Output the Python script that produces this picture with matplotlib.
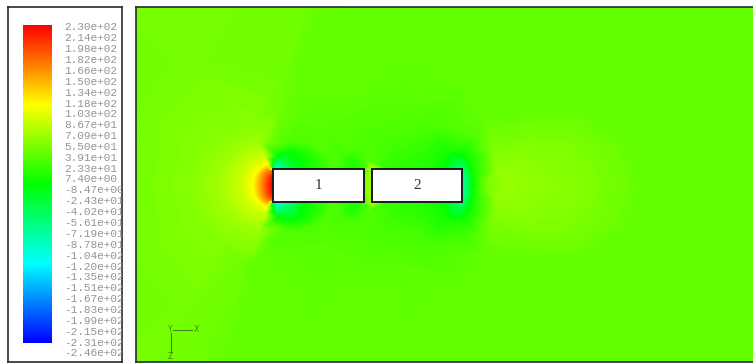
import numpy as np
import matplotlib
matplotlib.use('Agg')
import matplotlib.pyplot as plt
import matplotlib.tri as mtri
from matplotlib.colors import LinearSegmentedColormap, Normalize
from matplotlib.cm import ScalarMappable
from matplotlib.patches import Rectangle

# colour scale range (Pa) and the values printed next to the bar
p_min, p_max = -246.0, 230.0
scale_values = [230, 214, 198, 182, 166, 150, 134, 118, 103, 86.7, 70.9, 55.0, 39.1,
                23.3, 7.40, -8.47, -24.3, -40.2, -56.1, -71.9, -87.8, -104, -120,
                -135, -151, -167, -183, -199, -215, -231, -246]

# domain (m)
x_lo, x_hi = -1.375, 4.80
y_lo, y_hi = -1.76, 1.78

# blocks: left edge, bottom edge, length, height (m)
block_x = [0.0, 0.99]
block_y = [-0.165, -0.165]
block_len = [0.91, 0.90]
block_h = [0.33, 0.33]
block_names = ['1', '2']

# pressure probes, columns are x (m), y (m), p (Pa)
far_field = np.array([
    [-1.375, 1.78, 47], [-1.375, 0.9, 46], [-1.375, 0.0, 47], [-1.375, -0.9, 46],
    [-1.375, -1.76, 47], [-0.6, 1.78, 47], [0.25, 1.78, 46], [0.45, 1.78, 39],
    [1.2, 1.78, 38.5], [2.2, 1.78, 38.5], [3.3, 1.78, 38.5], [4.8, 1.78, 38.5],
    [-0.8, -1.76, 46], [-0.45, -1.76, 39], [0.4, -1.76, 38.5], [1.4, -1.76, 38.5],
    [2.4, -1.76, 38.5], [3.5, -1.76, 38.5], [4.8, -1.76, 38.5],
    [4.8, 0.9, 38.5], [4.8, 0.0, 38.5], [4.8, -0.9, 38.5],
    [1.0, 1.1, 38], [2.0, 1.1, 38.5], [3.0, 1.2, 38.5], [4.0, 0.6, 38.5],
    [4.0, -0.6, 38.5], [1.0, -1.1, 38], [2.0, -1.1, 38.5], [3.0, -1.2, 38.5],
    [-0.9, 1.3, 47], [-0.9, -1.3, 47],
    [0.05, 1.1, 46], [0.25, 1.1, 38], [-0.35, -0.75, 46], [-0.15, -0.75, 37],
    [0.05, 0.75, 45], [0.25, 0.75, 36],
])

# nested rings ahead of block 1 (stagnation zone)
stagnation = np.array([
    [-0.198, 0.640, 52], [-0.538, 0.532, 52], [-0.786, 0.325, 52], [-0.900, 0.0, 52],
    [-0.786, -0.325, 52], [-0.538, -0.532, 52], [-0.198, -0.640, 52],
    [-0.146, 0.443, 64], [-0.366, 0.369, 64], [-0.526, 0.225, 64], [-0.600, 0.0, 64],
    [-0.526, -0.225, 64], [-0.366, -0.369, 64], [-0.146, -0.443, 64],
    [-0.082, 0.286, 85], [-0.202, 0.238, 85], [-0.290, 0.145, 85], [-0.330, 0.0, 85],
    [-0.290, -0.145, 85], [-0.202, -0.238, 85], [-0.082, -0.286, 85],
    [-0.060, 0.207, 110], [-0.128, 0.172, 110], [-0.177, 0.105, 110], [-0.200, 0.0, 110],
    [-0.177, -0.105, 110], [-0.128, -0.172, 110], [-0.060, -0.207, 110],
    [-0.044, 0.148, 165], [-0.076, 0.123, 165], [-0.099, 0.075, 165], [-0.110, 0.0, 165],
    [-0.099, -0.075, 165], [-0.076, -0.123, 165], [-0.044, -0.148, 165],
    [-0.005, 0.14, 185], [-0.005, 0.07, 225], [-0.005, 0.0, 230],
    [-0.005, -0.07, 225], [-0.005, -0.14, 185],
])

# suction around the leading corners and rear of block 1
block1_field = np.array([
    # leading top corner
    [0.02, 0.185, -100], [0.08, 0.195, -75], [0.15, 0.19, -50], [0.22, 0.185, -25],
    [0.03, 0.24, -60], [0.10, 0.25, -40],
    [0.04, 0.31, -5], [0.15, 0.34, -5], [0.28, 0.32, -2], [0.38, 0.26, 3], [0.44, 0.19, 8],
    [0.08, 0.42, 30], [0.22, 0.45, 28], [0.42, 0.40, 28], [0.56, 0.28, 28], [0.60, 0.18, 26],
    # leading bottom corner
    [0.02, -0.185, -110], [0.09, -0.195, -85], [0.17, -0.195, -60], [0.25, -0.185, -30],
    [0.03, -0.245, -70], [0.11, -0.255, -45],
    [0.04, -0.32, -8], [0.16, -0.35, -8], [0.29, -0.33, -4], [0.39, -0.27, 2], [0.45, -0.20, 8],
    [0.08, -0.43, 30], [0.22, -0.46, 28], [0.42, -0.41, 28], [0.56, -0.29, 28], [0.60, -0.19, 26],
    # trailing corners
    [0.68, 0.18, 22], [0.77, 0.24, 5], [0.85, 0.20, 8], [0.70, 0.30, 22], [0.85, 0.33, 22],
    [0.77, 0.36, 28], [0.68, -0.18, 22], [0.77, -0.25, 5], [0.85, -0.20, 8],
    [0.70, -0.31, 22], [0.85, -0.34, 22], [0.77, -0.37, 28],
    # along the top and bottom faces
    [0.03, 0.172, -100], [0.10, 0.172, -75], [0.20, 0.172, -35], [0.30, 0.172, -8],
    [0.45, 0.172, 10], [0.80, 0.172, 5], [0.90, 0.172, 15],
    [0.03, -0.172, -110], [0.10, -0.172, -85], [0.20, -0.172, -45], [0.30, -0.172, -10],
    [0.45, -0.172, 10], [0.80, -0.172, 5], [0.90, -0.172, 15],
])

# gap between the blocks and the field round block 2
block2_field = np.array([
    [0.95, 0.17, 45], [0.95, 0.08, 60], [0.95, 0.0, 55], [0.95, -0.08, 60],
    [0.95, -0.17, 45], [0.95, 0.25, 28], [0.95, -0.25, 28],
    [0.985, 0.12, 70], [0.985, 0.0, 60], [0.985, -0.12, 70],
    [1.0, 0.172, 75], [1.0, -0.172, 70],
    [1.1, 0.18, 20], [1.3, 0.18, 12], [1.5, 0.18, 8], [1.65, 0.18, 0],
    [1.75, 0.172, -20], [1.85, 0.172, -45],
    [1.1, -0.18, 20], [1.3, -0.18, 12], [1.5, -0.18, 8], [1.65, -0.18, 0],
    [1.75, -0.172, -20], [1.85, -0.172, -45],
    [1.2, 0.32, 20], [1.5, 0.35, 15], [1.2, -0.32, 20], [1.5, -0.35, 15],
    [1.80, 0.25, -30], [1.88, 0.20, -50], [1.72, 0.30, 0], [1.90, 0.33, 0],
    [1.80, 0.40, 12], [1.98, 0.25, 0], [2.02, 0.35, 20],
    [1.79, -0.265, -30], [1.88, -0.21, -50], [1.72, -0.31, 0], [1.90, -0.34, 0],
    [1.80, -0.41, 12], [1.98, -0.26, 0], [2.02, -0.36, 20],
    [1.905, 0.15, -60], [1.905, 0.07, -85], [1.905, 0.0, -90], [1.905, -0.07, -85],
    [1.905, -0.15, -60], [1.95, 0.0, -40],
    [2.02, 0.10, 5], [2.02, -0.10, 5],
    [1.0, 0.55, 28], [1.6, 0.60, 26], [2.05, 0.50, 30], [0.5, 0.60, 33],
    [1.0, -0.55, 28], [1.6, -0.60, 26], [2.05, -0.50, 30], [0.5, -0.60, 33],
    [1.3, 0.85, 34], [1.3, -0.85, 34],
])

# recovery region behind block 2
wake = np.array([
    [2.35, 0.0, 62], [2.25, 0.15, 60], [2.25, -0.15, 60], [2.5, 0.2, 58],
    [2.5, -0.2, 58], [2.7, 0.0, 57], [2.12, 0.0, 45],
    [2.2, 0.35, 50], [2.2, -0.35, 50], [2.6, 0.5, 48], [2.6, -0.5, 48],
    [3.0, 0.55, 47], [3.0, -0.55, 47], [3.35, 0.3, 46], [3.35, -0.3, 46],
    [3.45, 0.0, 46],
    [2.1, 0.7, 38], [2.6, 0.75, 38], [3.1, 0.75, 38], [3.55, 0.45, 38], [3.7, 0.0, 38],
    [2.1, -0.7, 38], [2.6, -0.75, 38], [3.1, -0.75, 38], [3.55, -0.45, 38],
])

probes = np.vstack([far_field, stagnation, block1_field, block2_field, wake])

fluent_cmap = LinearSegmentedColormap.from_list(
    'fluent', ['#0000ff', '#00ffff', '#00ff00', '#ffff00', '#ff0000'])
norm = Normalize(p_min, p_max)

fig = plt.figure(figsize=(7.53, 3.63), dpi=100)
fig.patch.set_facecolor('white')

# main contour panel
ax = fig.add_axes([0.17995, 0.00413, 0.82005, 0.97521])
tri = mtri.Triangulation(probes[:, 0], probes[:, 1])
ax.tricontourf(tri, probes[:, 2], levels=np.linspace(p_min, p_max, 240),
               cmap=fluent_cmap, norm=norm, extend='both')

for bx, by, bl, bh, name in zip(block_x, block_y, block_len, block_h, block_names):
    ax.add_patch(Rectangle((bx, by), bl, bh, facecolor='white', edgecolor='#1a1a1a',
                           lw=1.4, zorder=3))
    ax.text(bx + bl / 2, by + bh / 2, name, ha='center', va='center', fontsize=11,
            family='Liberation Serif', color='#333333', zorder=4)

ax.set_xlim(x_lo, x_hi)
ax.set_ylim(y_lo, y_hi)
ax.set_xticks([])
ax.set_yticks([])
for side in ['left', 'top', 'bottom']:
    ax.spines[side].set_color('#2a2a2a')
    ax.spines[side].set_linewidth(1.2)
ax.spines['right'].set_visible(False)

# view triad
triad_col = '#3d8a14'
ax.plot([0.0605, 0.0923], [0.089, 0.089], color=triad_col, lw=0.8, transform=ax.transAxes)
ax.plot([0.0567, 0.0567], [0.080, 0.027], color=triad_col, lw=0.8, transform=ax.transAxes)
ax.text(0.0567, 0.089, 'Y', fontsize=5.5, color=triad_col, ha='center', va='center',
        transform=ax.transAxes)
ax.text(0.098, 0.089, 'X', fontsize=5.5, color=triad_col, ha='center', va='center',
        transform=ax.transAxes)
ax.text(0.0567, 0.013, 'Z', fontsize=5.5, color=triad_col, ha='center', va='center',
        transform=ax.transAxes)

# colour bar panel
lax = fig.add_axes([0.010624, 0.00413, 0.15139, 0.97521])
lax.set_xlim(0, 1)
lax.set_ylim(-258.4, 258.5)
lax.set_xticks([])
lax.set_yticks([])
for side in lax.spines.values():
    side.set_color('#2a2a2a')
    side.set_linewidth(1.2)
for v in scale_values:
    lax.text(0.491, v, '%.2e' % v, ha='left', va='center', fontsize=8,
             family='Liberation Mono', color='#959595', clip_on=True)

cax = fig.add_axes([0.030544, 0.055096, 0.038513, 0.876033])
cb = fig.colorbar(ScalarMappable(norm=norm, cmap=fluent_cmap), cax=cax)
cb.set_ticks([])
cb.outline.set_visible(False)

fig.savefig('out.png', dpi=100)
